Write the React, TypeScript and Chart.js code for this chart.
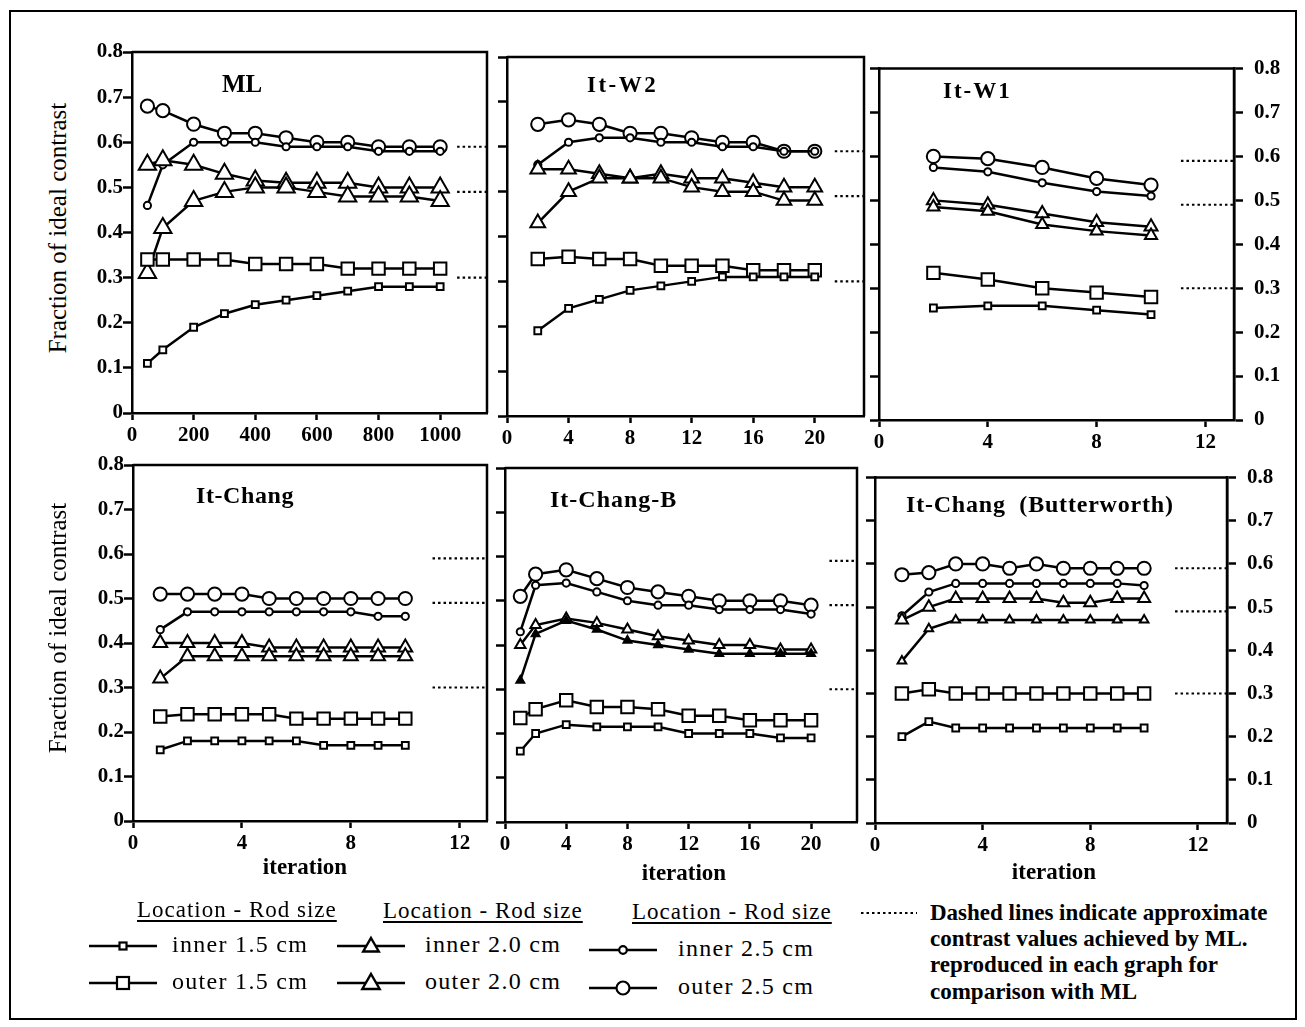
import React, { useEffect, useRef } from 'react';
import { Chart, registerables } from 'chart.js';
Chart.register(...registerables);

// ---------------- data ----------------
const Y_TICKS = [0, 0.1, 0.2, 0.3, 0.4, 0.5, 0.6, 0.7, 0.8];
const ML_X_TICKS = [0, 200, 400, 600, 800, 1000];
const W2_X_TICKS = [0, 4, 8, 12, 16, 20];
const W1_X_TICKS = [0, 4, 8, 12];
const CH_X_TICKS = [0, 4, 8, 12];
const CHB_X_TICKS = [0, 4, 8, 12, 16, 20];
const BW_X_TICKS = [0, 4, 8, 12];
const ML_REFERENCE = [0.59, 0.49, 0.3];

const ML_X = [50, 100, 200, 300, 400, 500, 600, 700, 800, 900, 1000];
const ML_INNER_15 = [0.11, 0.14, 0.19, 0.22, 0.24, 0.25, 0.26, 0.27, 0.28, 0.28, 0.28];
const ML_OUTER_15 = [0.34, 0.34, 0.34, 0.34, 0.33, 0.33, 0.33, 0.32, 0.32, 0.32, 0.32];
const ML_INNER_20 = [0.31, 0.41, 0.47, 0.49, 0.5, 0.5, 0.49, 0.48, 0.48, 0.48, 0.47];
const ML_OUTER_20 = [0.55, 0.56, 0.55, 0.53, 0.515, 0.51, 0.51, 0.51, 0.5, 0.5, 0.5];
const ML_INNER_25 = [0.46, 0.55, 0.6, 0.6, 0.6, 0.59, 0.59, 0.59, 0.58, 0.58, 0.58];
const ML_OUTER_25 = [0.68, 0.67, 0.64, 0.62, 0.62, 0.61, 0.6, 0.6, 0.59, 0.59, 0.59];

const W2_X = [2, 4, 6, 8, 10, 12, 14, 16, 18, 20];
const W2_INNER_15 = [0.19, 0.24, 0.26, 0.28, 0.29, 0.3, 0.31, 0.31, 0.31, 0.31];
const W2_OUTER_15 = [0.35, 0.355, 0.35, 0.35, 0.335, 0.335, 0.335, 0.325, 0.325, 0.325];
const W2_INNER_20 = [0.43, 0.5, 0.53, 0.53, 0.53, 0.51, 0.5, 0.5, 0.48, 0.48];
const W2_OUTER_20 = [0.55, 0.55, 0.54, 0.53, 0.54, 0.53, 0.53, 0.52, 0.51, 0.51];
const W2_INNER_25 = [0.56, 0.61, 0.62, 0.62, 0.61, 0.61, 0.6, 0.6, 0.59, 0.59];
const W2_OUTER_25 = [0.65, 0.66, 0.65, 0.63, 0.63, 0.62, 0.61, 0.61, 0.59, 0.59];

const W1_X = [2, 4, 6, 8, 10];
const W1_INNER_15 = [0.255, 0.26, 0.26, 0.25, 0.24];
const W1_OUTER_15 = [0.335, 0.32, 0.3, 0.29, 0.28];
const W1_INNER_20 = [0.485, 0.475, 0.445, 0.43, 0.42];
const W1_OUTER_20 = [0.5, 0.49, 0.47, 0.45, 0.44];
const W1_INNER_25 = [0.575, 0.565, 0.54, 0.52, 0.51];
const W1_OUTER_25 = [0.6, 0.595, 0.575, 0.55, 0.535];

const CH_X = [1, 2, 3, 4, 5, 6, 7, 8, 9, 10];
const CH_INNER_15 = [0.16, 0.18, 0.18, 0.18, 0.18, 0.18, 0.17, 0.17, 0.17, 0.17];
const CH_OUTER_15 = [0.235, 0.24, 0.24, 0.24, 0.24, 0.23, 0.23, 0.23, 0.23, 0.23];
const CH_INNER_20 = [0.32, 0.37, 0.37, 0.37, 0.37, 0.37, 0.37, 0.37, 0.37, 0.37];
const CH_OUTER_20 = [0.4, 0.4, 0.4, 0.4, 0.39, 0.39, 0.39, 0.39, 0.39, 0.39];
const CH_INNER_25 = [0.43, 0.47, 0.47, 0.47, 0.47, 0.47, 0.47, 0.47, 0.46, 0.46];
const CH_OUTER_25 = [0.51, 0.51, 0.51, 0.51, 0.5, 0.5, 0.5, 0.5, 0.5, 0.5];

const CHB_X = [1, 2, 4, 6, 8, 10, 12, 14, 16, 18, 20];
const CHB_INNER_15 = [0.16, 0.2, 0.22, 0.215, 0.215, 0.215, 0.2, 0.2, 0.2, 0.19, 0.19];
const CHB_OUTER_15 = [0.235, 0.255, 0.275, 0.26, 0.26, 0.255, 0.24, 0.24, 0.23, 0.23, 0.23];
const CHB_INNER_20 = [0.32, 0.425, 0.455, 0.435, 0.41, 0.4, 0.39, 0.38, 0.38, 0.38, 0.38];
const CHB_OUTER_20 = [0.4, 0.445, 0.46, 0.45, 0.435, 0.42, 0.41, 0.4, 0.4, 0.39, 0.39];
const CHB_INNER_25 = [0.43, 0.535, 0.54, 0.52, 0.5, 0.49, 0.49, 0.48, 0.48, 0.48, 0.47];
const CHB_OUTER_25 = [0.51, 0.56, 0.57, 0.55, 0.53, 0.52, 0.51, 0.5, 0.5, 0.5, 0.49];

const BW_X = [1, 2, 3, 4, 5, 6, 7, 8, 9, 10];
const BW_INNER_15 = [0.2, 0.235, 0.22, 0.22, 0.22, 0.22, 0.22, 0.22, 0.22, 0.22];
const BW_OUTER_15 = [0.3, 0.31, 0.3, 0.3, 0.3, 0.3, 0.3, 0.3, 0.3, 0.3];
const BW_INNER_20 = [0.375, 0.45, 0.47, 0.47, 0.47, 0.47, 0.47, 0.47, 0.47, 0.47];
const BW_OUTER_20 = [0.47, 0.5, 0.52, 0.52, 0.52, 0.52, 0.51, 0.51, 0.52, 0.52];
const BW_INNER_25 = [0.48, 0.535, 0.555, 0.555, 0.555, 0.555, 0.555, 0.555, 0.555, 0.55];
const BW_OUTER_25 = [0.575, 0.58, 0.6, 0.6, 0.59, 0.6, 0.59, 0.59, 0.59, 0.59];

// ---------------- layout / style ----------------
const FONT = 'Liberation Serif, Times New Roman, serif';
const PAD_L = 52;
const PAD_T = 16;
const PAD_B = 38;
const PAD_R = 10;
const PAD_R_AXIS = 62;

type Panel = {
  title: string;
  x: number[];
  xTicks: number[];
  xMax: number;
  refFrom: number;
  series: number[][];
  rect: [number, number, number, number];
  leftLabels: boolean;
  rightAxis: boolean;
  tri: [number, number];
  innerTriFill: string;
};

const PANELS: Panel[] = [
  { title: 'ML', x: ML_X, xTicks: ML_X_TICKS, xMax: 1152, refFrom: 1055,
    series: [ML_INNER_15, ML_OUTER_15, ML_INNER_20, ML_OUTER_20, ML_INNER_25, ML_OUTER_25],
    rect: [132, 52, 487, 413], leftLabels: true, rightAxis: false, tri: [10, 10], innerTriFill: '#fff' },
  { title: 'It-W2', x: W2_X, xTicks: W2_X_TICKS, xMax: 23.2, refFrom: 21.3,
    series: [W2_INNER_15, W2_OUTER_15, W2_INNER_20, W2_OUTER_20, W2_INNER_25, W2_OUTER_25],
    rect: [507, 57, 864, 416], leftLabels: false, rightAxis: false, tri: [8.5, 8.5], innerTriFill: '#fff' },
  { title: 'It-W1', x: W1_X, xTicks: W1_X_TICKS, xMax: 13.05, refFrom: 11.1,
    series: [W1_INNER_15, W1_OUTER_15, W1_INNER_20, W1_OUTER_20, W1_INNER_25, W1_OUTER_25],
    rect: [879, 61, 1234, 420], leftLabels: false, rightAxis: true, tri: [7, 7.5], innerTriFill: '#fff' },
  { title: 'It-Chang', x: CH_X, xTicks: CH_X_TICKS, xMax: 13.0, refFrom: 11.0,
    series: [CH_INNER_15, CH_OUTER_15, CH_INNER_20, CH_OUTER_20, CH_INNER_25, CH_OUTER_25],
    rect: [133, 465, 487, 821], leftLabels: true, rightAxis: false, tri: [8, 8], innerTriFill: '#fff' },
  { title: 'It-Chang-B', x: CHB_X, xTicks: CHB_X_TICKS, xMax: 23.0, refFrom: 21.2,
    series: [CHB_INNER_15, CHB_OUTER_15, CHB_INNER_20, CHB_OUTER_20, CHB_INNER_25, CHB_OUTER_25],
    rect: [505, 468, 857, 822], leftLabels: false, rightAxis: false, tri: [4.5, 6], innerTriFill: '#000' },
  { title: 'It-Chang  (Butterworth)', x: BW_X, xTicks: BW_X_TICKS, xMax: 13.08, refFrom: 11.15,
    series: [BW_INNER_15, BW_OUTER_15, BW_INNER_20, BW_OUTER_20, BW_INNER_25, BW_OUTER_25],
    rect: [875, 470, 1227, 823], leftLabels: false, rightAxis: true, tri: [5, 7], innerTriFill: '#fff' },
];

const STYLES = ['rect', 'rect', 'triangle', 'triangle', 'circle', 'circle'];

const boxPlugin = {
  id: 'panelBox',
  afterDatasetsDraw(chart: any) {
    const { ctx, chartArea } = chart;
    const { left, top, right, bottom } = chartArea;
    ctx.save();
    ctx.strokeStyle = '#000';
    ctx.lineWidth = 2.5;
    ctx.beginPath();
    ctx.moveTo(left, top);
    ctx.lineTo(right, top);
    ctx.lineTo(right, bottom);
    ctx.stroke();
    ctx.restore();
  },
};

const tickFont = { family: FONT, size: 21, weight: 'bold' as const };

function yAxis(position: 'left' | 'right', showLabels: boolean, width: number) {
  return {
    type: 'linear' as const,
    position,
    min: 0,
    max: 0.8,
    afterBuildTicks: (s: any) => { s.ticks = Y_TICKS.map((v) => ({ value: v })); },
    afterFit: (s: any) => { s.width = width; },
    border: { display: true, color: '#000', width: 2.5 },
    grid: { display: true, drawOnChartArea: false, drawTicks: true, tickLength: 9, tickWidth: 2.5, tickColor: '#000' },
    ticks: {
      display: showLabels,
      color: '#000',
      font: tickFont,
      padding: position === 'left' ? 0 : 11,
      callback: (v: any) => (Number(v) === 0 ? '0' : Number(v).toFixed(1)),
    },
  };
}

function PanelChart({ p }: { p: Panel }) {
  const ref = useRef<HTMLCanvasElement | null>(null);
  const [L, T, R, B] = p.rect;
  const padR = p.rightAxis ? PAD_R_AXIS : PAD_R;
  const w = R - L + PAD_L + padR;
  const h = B - T + PAD_T + PAD_B;

  useEffect(() => {
    if (!ref.current) return;
    const radii = [4.8, 8.8, p.tri[0], p.tri[1], 3.6, 6.6];
    const datasets: any[] = p.series.map((ys, k) => ({
      data: p.x.map((x, i) => ({ x, y: ys[i] })),
      borderColor: '#000',
      borderWidth: 2.5,
      pointStyle: STYLES[k],
      pointRadius: radii[k],
      pointBorderWidth: 2,
      pointBorderColor: '#000',
      pointBackgroundColor: k === 2 ? p.innerTriFill : '#fff',
      tension: 0,
      clip: false,
    }));
    ML_REFERENCE.forEach((v) => {
      datasets.push({
        data: [{ x: p.refFrom, y: v }, { x: p.xMax, y: v }],
        borderColor: '#000',
        borderWidth: 2.2,
        borderDash: [2.5, 3],
        pointRadius: 0,
        tension: 0,
      });
    });
    const scales: any = {
      x: {
        type: 'linear',
        position: 'bottom',
        min: 0,
        max: p.xMax,
        afterBuildTicks: (s: any) => { s.ticks = p.xTicks.map((v) => ({ value: v })); },
        afterFit: (s: any) => { s.height = PAD_B; },
        border: { display: true, color: '#000', width: 2.5 },
        grid: { display: true, drawOnChartArea: false, drawTicks: true, tickLength: 7, tickWidth: 2.5, tickColor: '#000' },
        ticks: { color: '#000', font: tickFont, padding: 3, maxRotation: 0, autoSkip: false, callback: (v: any) => String(v) },
      },
      y: yAxis('left', p.leftLabels, PAD_L),
    };
    if (p.rightAxis) scales.y2 = yAxis('right', true, PAD_R_AXIS);
    const chart = new Chart(ref.current, {
      type: 'line',
      data: { datasets },
      options: {
        responsive: false,
        animation: false,
        events: [],
        layout: { autoPadding: false, padding: { left: 0, top: PAD_T, right: p.rightAxis ? 0 : PAD_R, bottom: 0 } },
        plugins: { legend: { display: false }, tooltip: { enabled: false }, title: { display: false } },
        scales,
      } as any,
      plugins: [boxPlugin],
    });
    return () => chart.destroy();
  }, []);

  return (
    <canvas
      ref={ref}
      width={w}
      height={h}
      style={{ position: 'absolute', left: L - PAD_L, top: T - PAD_T, width: w, height: h }}
    />
  );
}

// ---------------- text helpers ----------------
function Txt({ x, y, size, bold, children, spacing, anchor }: any) {
  return (
    <div
      style={{
        position: 'absolute',
        left: x,
        top: y - size * 0.58,
        fontFamily: FONT,
        fontSize: size,
        fontWeight: bold ? 'bold' : 'normal',
        lineHeight: 1,
        whiteSpace: 'pre',
        letterSpacing: spacing || 0,
        transform: anchor === 'middle' ? 'translateX(-50%)' : undefined,
        color: '#000',
      }}
    >
      {children}
    </div>
  );
}

function LegendSymbol({ x, y, kind, big }: { x: number; y: number; kind: string; big: boolean }) {
  const wd = 68;
  const cx = wd / 2;
  const cy = 14;
  let marker: any = null;
  if (kind === 'rect') {
    const s = big ? 12 : 7;
    marker = <rect x={cx - s / 2} y={cy - s / 2} width={s} height={s} fill="#fff" stroke="#000" strokeWidth={2.2} />;
  } else if (kind === 'tri') {
    const r = big ? 10 : 9;
    const pts = [0, 1, 2].map((i) => {
      const a = (i * 2 * Math.PI) / 3;
      return `${cx + Math.sin(a) * r},${cy + 1 - Math.cos(a) * r}`;
    });
    marker = <polygon points={pts.join(' ')} fill="#fff" stroke="#000" strokeWidth={2.4} />;
  } else {
    const r = big ? 6.5 : 3.8;
    marker = <circle cx={cx} cy={cy} r={r} fill="#fff" stroke="#000" strokeWidth={2.2} />;
  }
  return (
    <svg width={wd} height={28} style={{ position: 'absolute', left: x, top: y - cy }}>
      <line x1={0} y1={cy} x2={wd} y2={cy} stroke="#000" strokeWidth={2.5} />
      {marker}
    </svg>
  );
}

export default function App() {
  return (
    <div style={{ position: 'absolute', left: 0, top: 0, width: 1305, height: 1027, overflow: 'hidden', background: '#fff' }}>
      <div style={{ position: 'absolute', left: 9, top: 10, width: 1288, height: 1010, border: '2px solid #000', boxSizing: 'border-box' }} />
      {PANELS.map((p, i) => (
        <PanelChart key={i} p={p} />
      ))}

      {/* panel titles */}
      <Txt x={222} y={85} size={25} bold>ML</Txt>
      <Txt x={587} y={86} size={23} bold spacing={2.5}>It-W2</Txt>
      <Txt x={943} y={92} size={23} bold spacing={2}>It-W1</Txt>
      <Txt x={196} y={497} size={24} bold spacing={0.6}>It-Chang</Txt>
      <Txt x={550} y={501} size={24} bold spacing={1}>It-Chang-B</Txt>
      <Txt x={906} y={506} size={24} bold spacing={0.8}>It-Chang  (Butterworth)</Txt>

      {/* y-axis titles */}
      {[228, 628].map((cy, i) => (
        <div
          key={i}
          style={{
            position: 'absolute',
            left: 57,
            top: cy,
            transform: 'translate(-50%, -50%) rotate(-90deg)',
            fontFamily: FONT,
            fontSize: 25,
            whiteSpace: 'nowrap',
            lineHeight: 1,
            color: '#000',
          }}
        >
          Fraction of ideal contrast
        </div>
      ))}

      {/* x-axis titles */}
      <Txt x={305} y={868} size={23} bold anchor="middle">iteration</Txt>
      <Txt x={684} y={874} size={23} bold anchor="middle">iteration</Txt>
      <Txt x={1054} y={873} size={23} bold anchor="middle">iteration</Txt>

      {/* legend */}
      {[[137, 912], [383, 913], [632, 914]].map(([x, y], i) => (
        <div
          key={i}
          style={{
            position: 'absolute',
            left: x,
            top: y - 14,
            fontFamily: FONT,
            fontSize: 23,
            lineHeight: 1,
            textDecoration: 'underline',
            textDecorationThickness: 2,
            textUnderlineOffset: 3,
            whiteSpace: 'pre',
            letterSpacing: 1,
            color: '#000',
          }}
        >
          Location - Rod size
        </div>
      ))}
      <LegendSymbol x={89} y={946} kind="rect" big={false} />
      <LegendSymbol x={89} y={983} kind="rect" big={true} />
      <LegendSymbol x={337} y={946} kind="tri" big={false} />
      <LegendSymbol x={337} y={983} kind="tri" big={true} />
      <LegendSymbol x={589} y={950} kind="circle" big={false} />
      <LegendSymbol x={589} y={988} kind="circle" big={true} />
      <Txt x={172} y={946} size={24} spacing={1.3}>inner 1.5 cm</Txt>
      <Txt x={172} y={983} size={24} spacing={1.3}>outer 1.5 cm</Txt>
      <Txt x={425} y={946} size={24} spacing={1.3}>inner 2.0 cm</Txt>
      <Txt x={425} y={983} size={24} spacing={1.3}>outer 2.0 cm</Txt>
      <Txt x={678} y={950} size={24} spacing={1.3}>inner 2.5 cm</Txt>
      <Txt x={678} y={988} size={24} spacing={1.3}>outer 2.5 cm</Txt>

      <svg width={60} height={10} style={{ position: 'absolute', left: 861, top: 908 }}>
        <line x1={0} y1={5} x2={56} y2={5} stroke="#000" strokeWidth={2.2} strokeDasharray="2.5 3" />
      </svg>
      <Txt x={930} y={914} size={23} bold>Dashed lines indicate approximate</Txt>
      <Txt x={930} y={940} size={23} bold>contrast values achieved by ML.</Txt>
      <Txt x={930} y={966} size={23} bold>reproduced in each graph for</Txt>
      <Txt x={930} y={993} size={23} bold>comparison with ML</Txt>
    </div>
  );
}
